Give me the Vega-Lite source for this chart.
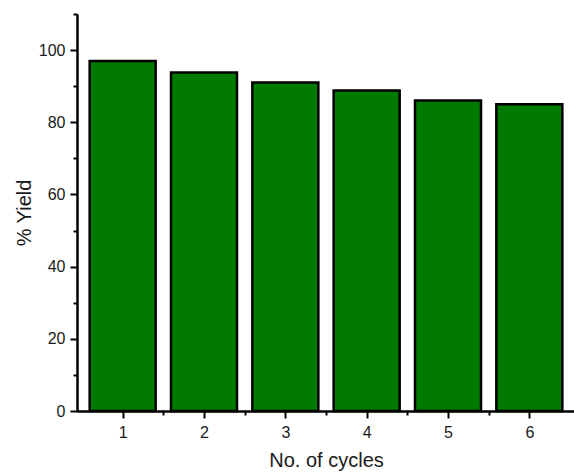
{
  "$schema": "https://vega.github.io/schema/vega-lite/v6.json",
  "autosize": {"type": "none"},
  "padding": {"left": 77, "top": 14, "right": 0, "bottom": 61},
  "width": 498,
  "height": 397,
  "background": "white",
  "config": {
    "view": {"stroke": null},
    "font": "Liberation Sans",
    "axis": {
      "grid": false,
      "domainColor": "black",
      "domainWidth": 2,
      "tickColor": "black",
      "tickWidth": 2,
      "labelColor": "#1a1a1a",
      "titleColor": "#1a1a1a",
      "labelFont": "Liberation Sans",
      "titleFont": "Liberation Sans",
      "titleFontWeight": "normal"
    }
  },
  "data": {
    "values": [
      {"cycle": 1, "yield": 97},
      {"cycle": 2, "yield": 93.8},
      {"cycle": 3, "yield": 91},
      {"cycle": 4, "yield": 88.8},
      {"cycle": 5, "yield": 86},
      {"cycle": 6, "yield": 85}
    ]
  },
  "layer": [
    {
      "mark": {"type": "bar", "width": 66, "color": "#007A00", "stroke": "black", "strokeWidth": 2.5},
      "encoding": {
        "x": {
          "field": "cycle", "type": "quantitative",
          "scale": {"domain": [0.5, 6.5], "nice": false, "zero": false},
          "axis": {
            "orient": "bottom",
            "values": [1, 2, 3, 4, 5, 6],
            "title": "No. of cycles",
            "titleFontSize": 20,
            "titlePadding": 10,
            "labelFontSize": 16,
            "labelPadding": 6,
            "tickSize": 7,
            "format": "d"
          }
        },
        "y": {
          "field": "yield", "type": "quantitative",
          "scale": {"domain": [0, 110], "nice": false},
          "axis": {
            "orient": "left",
            "values": [0, 20, 40, 60, 80, 100],
            "title": "% Yield",
            "titleFontSize": 20,
            "titlePadding": 4,
            "labelFontSize": 16,
            "labelPadding": 5,
            "tickSize": 7
          }
        }
      }
    },
    {
      "mark": {"type": "bar", "opacity": 0},
      "encoding": {
        "x": {
          "field": "cycle", "type": "quantitative",
          "axis": {
            "orient": "bottom",
            "values": [1.5, 2.5, 3.5, 4.5, 5.5],
            "labels": false,
            "title": null,
            "tickSize": 4
          }
        },
        "y": {
          "field": "yield", "type": "quantitative",
          "axis": {
            "orient": "left",
            "values": [10, 30, 50, 70, 90, 110],
            "labels": false,
            "title": null,
            "tickSize": 4
          }
        }
      }
    }
  ],
  "resolve": {"axis": {"x": "independent", "y": "independent"}}
}
